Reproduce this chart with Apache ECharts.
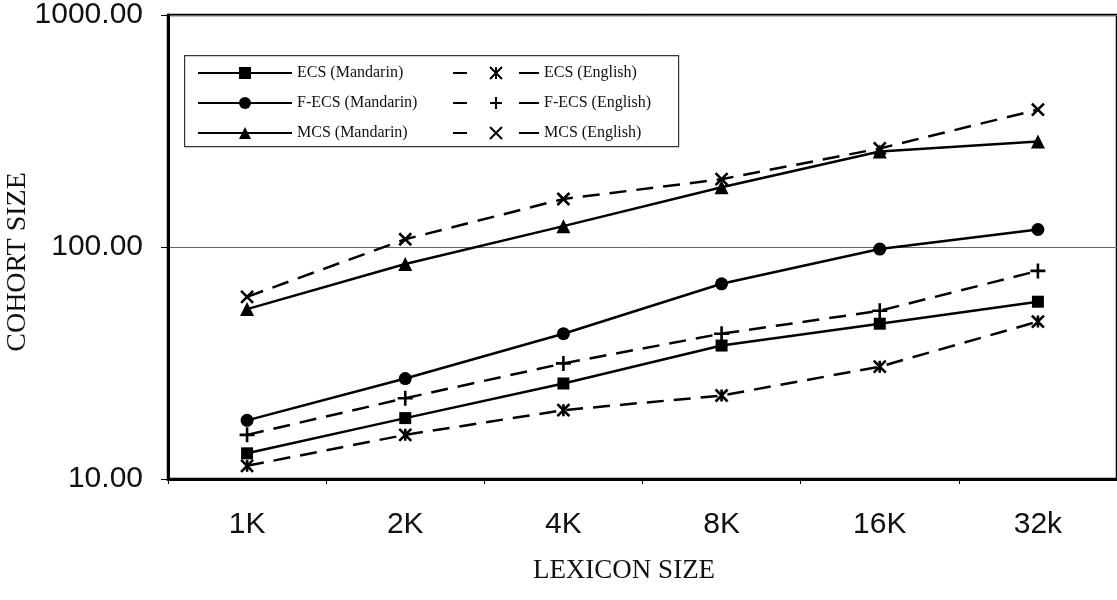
<!DOCTYPE html>
<html>
<head>
<meta charset="utf-8">
<script src="https://cdn.jsdelivr.net/npm/echarts@6/dist/echarts.min.js"></script>
<style>
html,body{margin:0;padding:0;background:#fff;}
#chart{width:1117px;height:600px;}
</style>
</head>
<body>
<div id="chart"></div>
<script>
// ---- data ----
const categories = ['1K', '2K', '4K', '8K', '16K', '32k'];
const ecsMandarin  = [12.9, 18.3, 25.8, 37.6, 46.7, 58.1];
const fecsMandarin = [17.9, 27.1, 42.3, 69.4, 98, 119];
const mcsMandarin  = [54, 84.5, 123, 181, 258, 285];
const ecsEnglish   = [11.4, 15.5, 19.8, 22.9, 30.5, 47.7];
const fecsEnglish  = [15.5, 22.3, 31.5, 42.3, 53.1, 78.9];
const mcsEnglish   = [61, 108, 161, 196, 266, 391];
const yTicks = [10, 100, 1000];
const mandarinNames = ['ECS (Mandarin)', 'F-ECS (Mandarin)', 'MCS (Mandarin)'];
const englishNames = ['ECS (English)', 'F-ECS (English)', 'MCS (English)'];
const xTitle = 'LEXICON SIZE';
const yTitle = 'COHORT SIZE';

const ASTERISK = 'path://M0,0L10,10M10,0L0,10M5,0L5,10';
const PLUS = 'path://M5,0L5,10M0,5L10,5';
const CROSS = 'path://M0,0L10,10M10,0L0,10';

function solid(name, data, symbol, size) {
  return {
    name, type: 'line', data, symbol, symbolSize: size,
    lineStyle: { color: '#000', width: 2.5, type: 'solid' },
    itemStyle: { color: '#000' },
    animation: false, z: 3
  };
}
function dashed(name, data, symbol, size) {
  return {
    name, type: 'line', data, symbol, symbolSize: size,
    lineStyle: { color: '#000', width: 2.5, type: [17, 10] },
    itemStyle: { color: '#000', borderColor: '#000', borderWidth: 2.6 },
    animation: false, z: 2
  };
}

const chart = echarts.init(document.getElementById('chart'), null, { renderer: 'canvas' });
const legendText = { fontFamily: 'Liberation Serif', fontSize: 16, color: '#111' };
chart.setOption({
  backgroundColor: '#fff',
  animation: false,
  grid: {
    left: 168, top: 15, bottom: 121, width: 952,
    show: true, borderColor: '#000', borderWidth: 2.5, backgroundColor: 'transparent'
  },
  legend: [
    {
      data: mandarinNames, orient: 'vertical', left: 192, top: 60,
      itemWidth: 94, itemHeight: 15, itemGap: 14,
      textStyle: legendText, selectedMode: false
    },
    {
      data: englishNames, orient: 'vertical', left: 447, top: 60,
      itemWidth: 86, itemHeight: 15, itemGap: 14,
      lineStyle: { type: [14, 52, 20, 10] },
      textStyle: legendText, selectedMode: false
    }
  ],
  xAxis: {
    type: 'category', data: categories, boundaryGap: true,
    axisLine: { lineStyle: { color: '#000', width: 3 } },
    axisTick: { show: true, length: 5, lineStyle: { color: '#000', width: 1 } },
    axisLabel: { fontFamily: 'Liberation Sans', fontSize: 30, color: '#111', margin: 31 },
    splitLine: { show: false }
  },
  yAxis: {
    type: 'log', logBase: 10, min: yTicks[0], max: yTicks[yTicks.length - 1],
    axisLine: { show: true, lineStyle: { color: '#000', width: 3 } },
    axisTick: { show: true, length: 7, lineStyle: { color: '#000', width: 1 } },
    axisLabel: {
      fontFamily: 'Liberation Sans', fontSize: 30, color: '#111', margin: 25,
      formatter: v => Number(v).toFixed(2)
    },
    splitLine: { show: true, lineStyle: { color: '#666', width: 1 } },
    minorTick: { show: false }
  },
  graphic: [
    {
      type: 'rect', left: 184, top: 55, z: 10, silent: true,
      shape: { width: 494, height: 91 },
      style: { fill: 'transparent', stroke: '#333', lineWidth: 1.2 }
    },
    {
      type: 'text', x: 624, y: 571, z: 10,
      style: { text: xTitle, font: '27px "Liberation Serif"', fill: '#111', textAlign: 'center', textVerticalAlign: 'middle' }
    },
    {
      type: 'text', x: 18, y: 262, rotation: Math.PI / 2, z: 10,
      style: { text: yTitle, font: '28px "Liberation Serif"', fill: '#111', textAlign: 'center', textVerticalAlign: 'middle' }
    }
  ],
  series: [
    solid(mandarinNames[0], ecsMandarin, 'rect', 12),
    solid(mandarinNames[1], fecsMandarin, 'circle', 13),
    solid(mandarinNames[2], mcsMandarin, 'triangle', 14),
    dashed(englishNames[0], ecsEnglish, ASTERISK, 12),
    dashed(englishNames[1], fecsEnglish, PLUS, 15),
    dashed(englishNames[2], mcsEnglish, CROSS, 12)
  ]
});
</script>
</body>
</html>
